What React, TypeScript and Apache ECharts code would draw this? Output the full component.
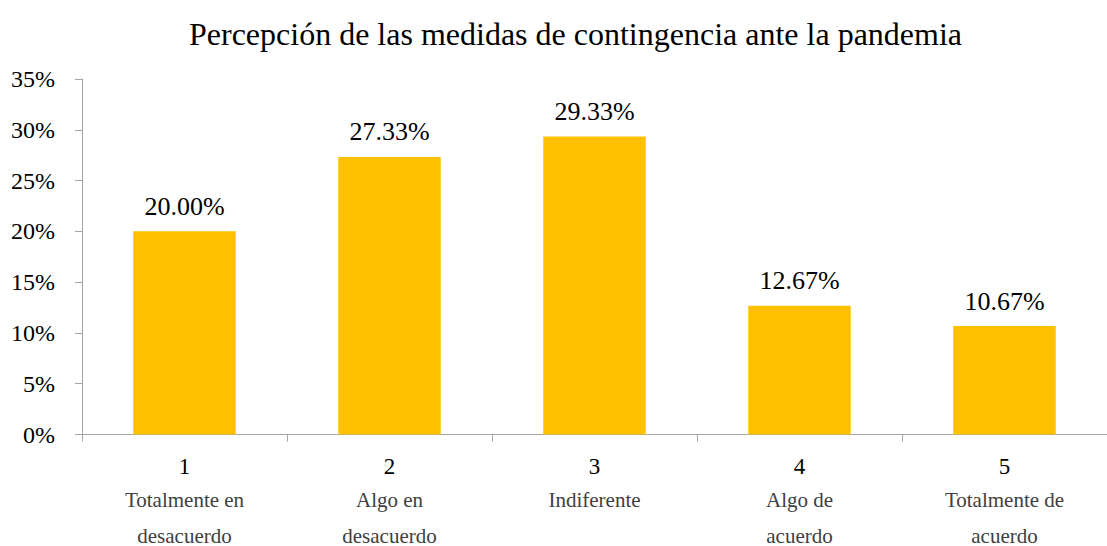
import React, { useEffect, useRef } from "react";
import * as echarts from "echarts";

const numbers = ["1", "2", "3", "4", "5"];
const descriptions = [
  ["Totalmente en", "desacuerdo"],
  ["Algo en", "desacuerdo"],
  ["Indiferente"],
  ["Algo de", "acuerdo"],
  ["Totalmente de", "acuerdo"],
];
const values = [20.0, 27.33, 29.33, 12.67, 10.67];
const title = "Percepción de las medidas de contingencia ante la pandemia";

const FONT = "Liberation Serif";

export default function App() {
  const ref = useRef<HTMLDivElement>(null);
  useEffect(() => {
    if (!ref.current) return;
    const chart = echarts.init(ref.current, undefined, { renderer: "svg" });
    const categories = numbers.map((n, i) =>
      [`{n|${n}}`, ...descriptions[i].map((d) => `{d|${d}}`)].join("\n")
    );
    chart.setOption({
      animation: false,
      backgroundColor: "#ffffff",
      textStyle: { fontFamily: FONT },
      title: {
        text: title,
        left: 184,
        top: 13,
        textStyle: { fontFamily: FONT, fontSize: 32, fontWeight: "normal", color: "#000000" },
      },
      grid: { left: 82, right: -10, top: 79, bottom: 110, containLabel: false },
      xAxis: {
        type: "category",
        data: categories,
        axisLine: { lineStyle: { color: "#A6A6A6", width: 1 } },
        axisTick: { show: true, length: 7, lineStyle: { color: "#A6A6A6" } },
        axisLabel: {
          margin: 17,
          interval: 0,
          verticalAlign: "top",
          fontFamily: FONT,
          rich: {
            n: { fontFamily: FONT, fontSize: 23, color: "#000000", lineHeight: 30 },
            d: { fontFamily: FONT, fontSize: 21, color: "#404040", lineHeight: 36 },
          },
        },
      },
      yAxis: {
        type: "value",
        min: 0,
        max: 35,
        interval: 5,
        splitLine: { show: false },
        axisLine: { show: true, lineStyle: { color: "#A6A6A6", width: 1 } },
        axisTick: { show: true, length: 7, lineStyle: { color: "#A6A6A6" } },
        axisLabel: {
          formatter: "{value}%",
          fontFamily: FONT,
          fontSize: 24,
          color: "#000000",
          margin: 27,
        },
      },
      series: [
        {
          type: "bar",
          data: values,
          barWidth: "50%",
          itemStyle: { color: "#FFC000" },
          label: {
            show: true,
            position: "top",
            distance: 12,
            formatter: (p: any) => `${Number(p.value).toFixed(2)}%`,
            fontFamily: FONT,
            fontSize: 26,
            color: "#000000",
          },
        },
      ],
    });
    return () => chart.dispose();
  }, []);
  return (
    <div
      ref={ref}
      style={{ position: "fixed", left: 0, top: 0, width: 1107, height: 546, background: "#fff" }}
    />
  );
}
